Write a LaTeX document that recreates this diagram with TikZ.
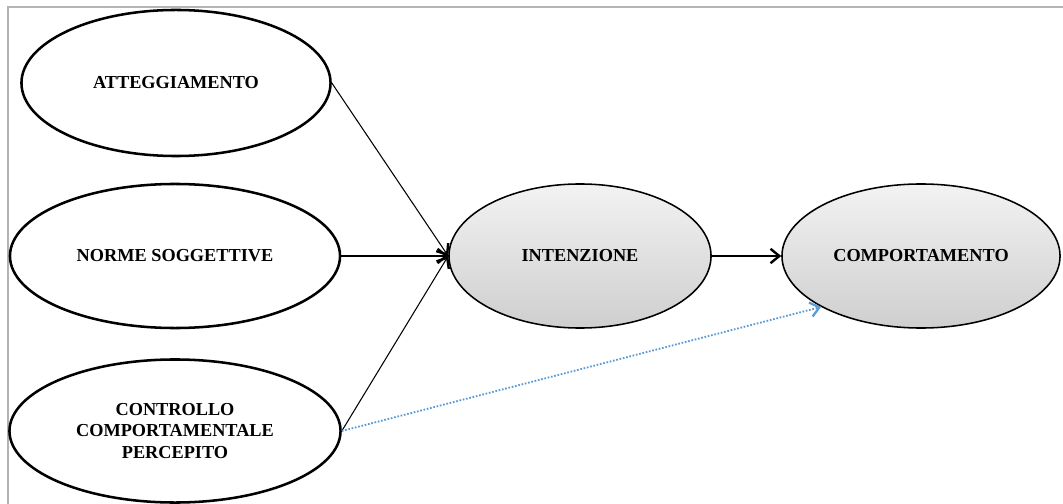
\documentclass[tikz,border=0pt]{standalone}
\usepackage{fontspec}
\setmainfont{Liberation Serif}
\usepackage{tikz}
\usetikzlibrary{
  arrows.meta,
  shapes.geometric,
  positioning
}
\definecolor{framegray}{HTML}{B4B4B4}
\definecolor{dotblue}{HTML}{5B9BD5}

\begin{document}
\begin{tikzpicture}[x=0.025cm,y=-0.025cm,
  every text node part/.style={align=center},
  font=\fontsize{13}{15.6}\selectfont\bfseries,
  white ell/.style={ellipse,draw=black,line width=1.8pt,fill=white,inner sep=0pt},
  gray ell/.style={ellipse,draw=black,line width=1.1pt,top color=gray!10,bottom color=gray!38,inner sep=0pt},
  arr/.style={-{Straight Barb[length=2.2mm,width=3.6mm,line width=1.7pt]},line width=0.75pt}]
  \useasboundingbox (0,0) rectangle (1063,504);
  \draw[framegray,line width=1.4pt] (8,510) -- (8,7) -- (1070,7);

  \node[white ell,minimum width=7.725cm,minimum height=3.65cm] (1) at (176,83) {ATTEGGIAMENTO};
  \node[white ell,minimum width=8.25cm,minimum height=3.6cm] (2) at (175,256) {NORME SOGGETTIVE};
  \node[white ell,minimum width=8.275cm,minimum height=3.575cm] (3) at (175,431) {CONTROLLO\\COMPORTAMENTALE\\PERCEPITO};
  \node[gray ell,minimum width=6.55cm,minimum height=3.6cm] (4) at (580,256) {INTENZIONE};
  \node[gray ell,minimum width=6.95cm,minimum height=3.6cm] (5) at (921,256) {COMPORTAMENTO};

  \draw[arr] (1.east) -- (4.west);
  \draw[arr] (2.east) -- (4.west);
  \draw[arr] (3.east) -- (4.west);
  \draw[arr] (4.east) -- (5.west);
  \draw[dotblue,line width=1.3pt,dash pattern=on 1.2pt off 1.2pt,
    -{Straight Barb[length=2.2mm,width=3.6mm,line width=1.6pt]}] (3.east) -- (5.207);

\end{tikzpicture}
\end{document}
